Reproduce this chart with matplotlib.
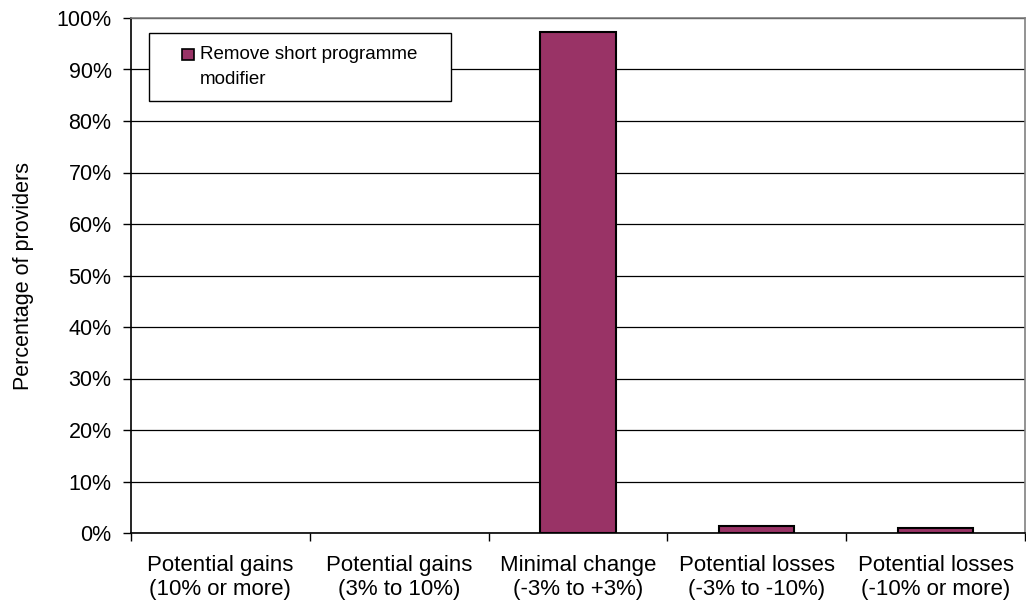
import matplotlib
matplotlib.use("Agg")
import matplotlib.pyplot as plt
from matplotlib.patches import Rectangle
from matplotlib.ticker import FixedLocator, PercentFormatter

categories = [
    "Potential gains\n(10% or more)",
    "Potential gains\n(3% to 10%)",
    "Minimal change\n(-3% to +3%)",
    "Potential losses\n(-3% to -10%)",
    "Potential losses\n(-10% or more)",
]
values = [0.0, 0.0, 97.2, 1.4, 1.0]
series_name = "Remove short programme\nmodifier"
y_ticks = list(range(0, 101, 10))

bar_color = "#993366"

plt.rcParams["font.family"] = ["Liberation Sans", "DejaVu Sans"]

fig = plt.figure(figsize=(10.26, 6.14), dpi=100)
W, H = 1026, 614
left, right, top, bottom = 131, 1025, 18, 533
ax = fig.add_axes([left / W, 1 - bottom / H, (right - left) / W, (bottom - top) / H])

x = list(range(len(categories)))
# empty categories get no outline
edge_widths = [1.5 if v > 0 else 0 for v in values]
ax.bar(x, values, width=0.42, color=bar_color, edgecolor="black",
       linewidth=edge_widths, zorder=3)

ax.set_xlim(-0.5, len(categories) - 0.5)
ax.set_ylim(0, 100)

# y axis
ax.set_yticks(y_ticks)
ax.yaxis.set_major_formatter(PercentFormatter(decimals=0))
ax.yaxis.grid(True, color="black", linewidth=0.9, zorder=0)
ax.tick_params(axis="y", direction="out", length=6, width=1, labelsize=15.5,
               pad=8, colors="black")
ax.set_ylabel("Percentage of providers", fontsize=15.5)
ax.yaxis.set_label_coords((34 - left) / (right - left), 0.5)

# x axis: ticks at category boundaries, labels at centres
ax.xaxis.set_major_locator(FixedLocator([i - 0.5 for i in range(len(categories) + 1)]))
ax.xaxis.set_minor_locator(FixedLocator(x))
ax.set_xticklabels([""] * (len(categories) + 1))
ax.set_xticklabels(categories, minor=True, fontsize=16, linespacing=1.2)
ax.tick_params(axis="x", which="major", direction="out", length=6, width=1)
ax.tick_params(axis="x", which="minor", length=0, pad=16)

for side in ("top", "right"):
    ax.spines[side].set_color("#808080")
    ax.spines[side].set_linewidth(1.2)
ax.spines["left"].set_color("black")
ax.spines["bottom"].set_color("black")
ax.spines["left"].set_linewidth(1.2)
ax.spines["bottom"].set_linewidth(1.2)
ax.set_axisbelow(True)

# legend: framed box, swatch beside the first line of the series name
def px_to_axes(px, py):
    return (px - left) / (right - left), (bottom - py) / (bottom - top)

bx0, by0 = px_to_axes(149, 101)
bx1, by1 = px_to_axes(451, 33)
ax.add_patch(Rectangle((bx0, by0), bx1 - bx0, by1 - by0, transform=ax.transAxes,
                       facecolor="white", edgecolor="black", linewidth=1.0,
                       zorder=5))
sx0, sy0 = px_to_axes(182, 60)
sx1, sy1 = px_to_axes(194, 49)
ax.add_patch(Rectangle((sx0, sy0), sx1 - sx0, sy1 - sy0, transform=ax.transAxes,
                       facecolor=bar_color, edgecolor="black", linewidth=1.2,
                       zorder=6))
tx, ty = px_to_axes(200, 46)
ax.text(tx, ty, series_name, transform=ax.transAxes, fontsize=13.5,
        ha="left", va="top", linespacing=1.65, zorder=7)

fig.savefig("out.png", dpi=100, facecolor="white")
